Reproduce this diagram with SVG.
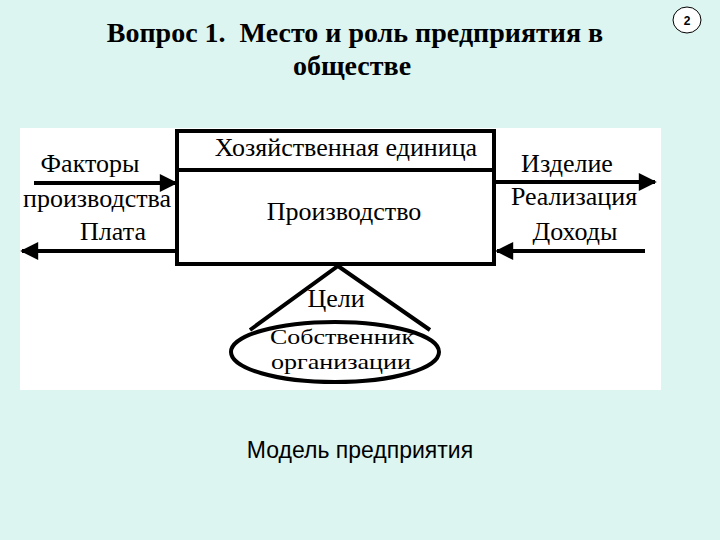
<svg xmlns="http://www.w3.org/2000/svg" width="720" height="540" viewBox="0 0 720 540">
<defs>
<style>
.t{font-family:"Liberation Serif","Times New Roman",serif;fill:#000}
.d{font-family:"Liberation Serif","Times New Roman",serif;font-size:26px;fill:#000}
.o{font-family:"Liberation Serif","Times New Roman",serif;font-size:22px;fill:#000}
.ln{stroke:#000;stroke-width:4;fill:none}
</style>
<marker id="ah" viewBox="0 0 10 10" refX="9" refY="5" markerWidth="5" markerHeight="4.5" orient="auto" markerUnits="strokeWidth"><path d="M0,0L10,5L0,10z" fill="#000"/></marker>
</defs>
<rect width="720" height="540" fill="#DCF5F0"/>
<g id="title">
<text class="t" x="355" y="42" font-size="28" font-weight="bold" text-anchor="middle" xml:space="preserve" style="white-space:pre">Вопрос 1.  Место и роль предприятия в</text>
<text class="t" x="352" y="75" font-size="28" font-weight="bold" text-anchor="middle">обществе</text>
</g>
<g id="pagenum">
<ellipse cx="687" cy="20" rx="14" ry="13" fill="#fff" stroke="#000" stroke-width="1"/>
<text x="687" y="25" font-family="Liberation Sans,Arial,sans-serif" font-size="12" font-weight="bold" text-anchor="middle">2</text>
</g>
<rect x="20" y="128" width="641" height="262" fill="#fff"/>
<g id="connectors">
<line class="ln" x1="34" y1="183" x2="176" y2="183" marker-end="url(#ah)"/>
<line class="ln" x1="176" y1="251" x2="22" y2="251" marker-end="url(#ah)"/>
<line class="ln" x1="495" y1="182" x2="655" y2="182" marker-end="url(#ah)"/>
<line class="ln" x1="645" y1="251" x2="497" y2="251" marker-end="url(#ah)"/>
<polyline class="ln" points="250,330 338,266 430,330"/>
</g>
<g id="unit">
<rect x="177" y="131" width="317" height="133" class="ln" fill="#fff"/>
<line class="ln" x1="177" y1="170" x2="494" y2="170"/>
<text class="d" x="346" y="156" text-anchor="middle">Хозяйственная единица</text>
<text class="d" x="344" y="220" text-anchor="middle">Производство</text>
</g>
<g id="labels-left">
<text class="d" x="90" y="172" text-anchor="middle">Факторы</text>
<text class="d" x="97" y="207" text-anchor="middle">производства</text>
<text class="d" x="113" y="240" text-anchor="middle">Плата</text>
</g>
<g id="labels-right">
<text class="d" x="567" y="172" text-anchor="middle">Изделие</text>
<text class="d" x="574" y="205" text-anchor="middle">Реализация</text>
<text class="d" x="575" y="240" text-anchor="middle">Доходы</text>
</g>
<g id="goals">
<text class="d" x="336" y="307" text-anchor="middle">Цели</text>
</g>
<g id="owner">
<ellipse cx="335" cy="352" rx="104" ry="30" class="ln" fill="#fff"/>
<text class="o" x="270" y="344" textLength="144" lengthAdjust="spacingAndGlyphs">Собственник</text>
<text class="o" x="271" y="369" textLength="140" lengthAdjust="spacingAndGlyphs">организации</text>
</g>
<text x="360" y="458" font-family="Liberation Sans,Arial,sans-serif" font-size="23" text-anchor="middle" fill="#000">Модель предприятия</text>
</svg>
